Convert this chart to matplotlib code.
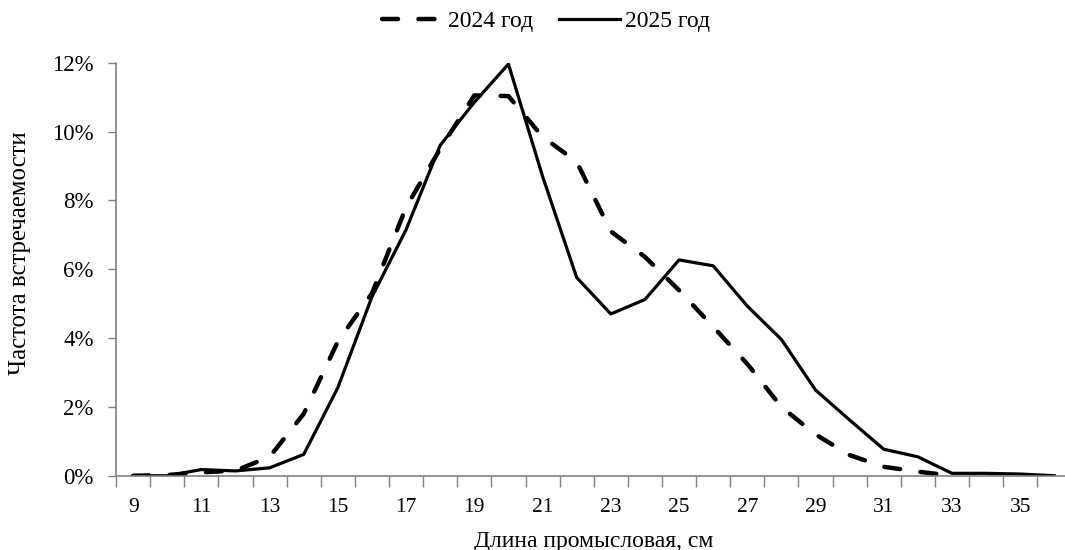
import numpy as np
import matplotlib.pyplot as plt
from matplotlib.ticker import FuncFormatter

plt.rcParams['font.family'] = ['Liberation Serif', 'DejaVu Serif']

lengths = list(range(9, 37))
freq_2024 = [0.0, 0.02, 0.10, 0.15, 0.55, 1.80, 3.90, 5.30, 7.80, 9.50, 11.05, 11.03,
             9.85, 9.12, 7.10, 6.36, 5.39, 4.33, 3.25, 2.00, 1.20, 0.60, 0.26, 0.12,
             0.0, np.nan, np.nan, np.nan]
freq_2025 = [0.0, 0.0, 0.18, 0.14, 0.23, 0.62, 2.56, 5.20, 7.15, 9.60, 10.85, 11.96,
             8.70, 5.76, 4.70, 5.12, 6.27, 6.10, 4.93, 3.96, 2.49, 1.62, 0.77, 0.55,
             0.07, 0.07, 0.05, 0.0]
labels = ['2024 год', '2025 год']

x = np.array(lengths)
y24 = np.array(freq_2024) / 100
y25 = np.array(freq_2025) / 100

fig = plt.figure(figsize=(10.65, 5.5), dpi=100)
ax = fig.add_axes([0.109, 0.135, 0.897, 0.751])

ax.plot(x, y24, color='black', lw=3.2, linestyle=(0, (3.6, 4.6)),
        dash_capstyle='round', label=labels[0])
ax.plot(x, y25, color='black', lw=2.3, label=labels[1])

ax.set_xlim(8.5, 36.5)
ax.set_ylim(0, 0.12)
ax.set_yticks(np.arange(0, 0.121, 0.02))
ax.yaxis.set_major_formatter(FuncFormatter(lambda v, p: f'{v*100:.0f}%'))
ax.set_xticks(range(9, 36, 2))
ax.set_xticks(np.arange(8.5, 37, 1), minor=True)
ax.tick_params(axis='x', which='major', length=0, pad=16, labelsize=15.5)
ax.tick_params(axis='x', which='minor', length=8, width=1, color='#808080')
ax.tick_params(axis='y', length=6, width=1, color='#808080', labelsize=16.5, pad=10)

for s in ['top', 'right']:
    ax.spines[s].set_visible(False)
for s in ['left', 'bottom']:
    ax.spines[s].set_color('#808080')
    ax.spines[s].set_linewidth(1.2)

ax.set_xlabel('Длина промысловая, см', fontsize=17, labelpad=10)
fig.text(20 / 1065, 1 - 253 / 550, 'Частота встречаемости', fontsize=17.8,
         rotation=90, ha='center', va='center')

fig.legend(*ax.get_legend_handles_labels(), loc='center',
           bbox_to_anchor=(546 / 1065, 1 - 21 / 550), ncol=2, frameon=False,
           fontsize=17, handlelength=2.6, handletextpad=0.2, columnspacing=1.1,
           borderpad=0, borderaxespad=0)

plt.savefig('out.png', dpi=100)
